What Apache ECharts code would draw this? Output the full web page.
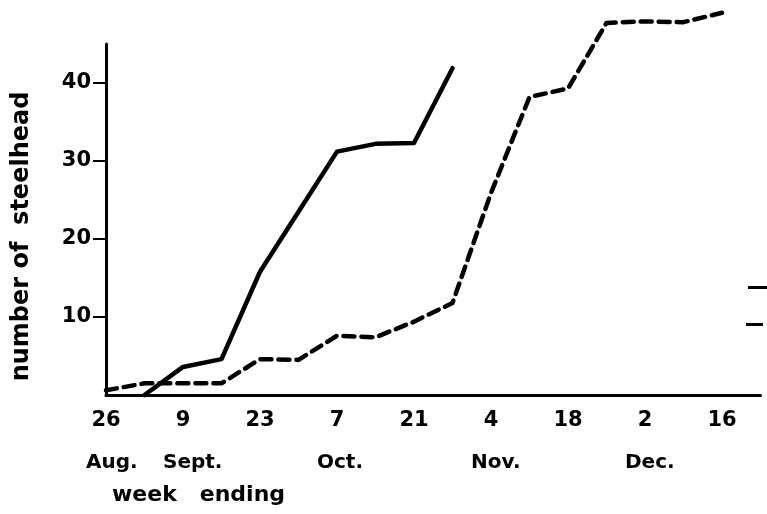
<!DOCTYPE html>
<html>
<head>
<meta charset="utf-8">
<script src="https://cdn.jsdelivr.net/npm/echarts@6/dist/echarts.min.js"></script>
<style>html,body{margin:0;padding:0;background:#fff}#c{width:767px;height:514px}</style>
</head>
<body>
<div id="c"></div>
<script>
// weekly categories (week ending), Aug 26 .. Dec 16, plus one trailing blank slot
var weekDays = ['26','2','9','16','23','30','7','14','21','28','4','11','18','25','2','9','16',''];
var monthLabels = ['Aug.','','Sept.','','','','Oct.','','','','Nov.','','','','Dec.','','',''];
// solid line (cumulative count, first series)
var solidValues = [null, 0, 3.6, 4.6, 15.8, 23.5, 31.2, 32.2, 32.3, 41.9, null, null, null, null, null, null, null, null];
// dashed line (cumulative count, second series)
var dashedValues = [0.6, 1.5, 1.5, 1.5, 4.6, 4.5, 7.6, 7.4, 9.4, 11.8, 25.9, 38.2, 39.3, 47.7, 47.9, 47.8, 49.0, null];
var yTicks = [10, 20, 30, 40];

var FONT = '"DejaVu Sans", "Liberation Sans", sans-serif';
var chart = echarts.init(document.getElementById('c'));
chart.setOption({
  animation: false,
  backgroundColor: '#ffffff',
  grid: { left: 106, right: 6.5, top: 44, bottom: 119, containLabel: false },
  xAxis: [{
    type: 'category',
    data: weekDays,
    boundaryGap: false,
    axisLine: { lineStyle: { color: '#000', width: 3 } },
    axisTick: { show: false },
    axisLabel: { interval: 1, margin: 15, color: '#000', fontFamily: FONT, fontWeight: 'bold', fontSize: 21 },
    splitLine: { show: false }
  }, {
    type: 'category',
    data: monthLabels,
    boundaryGap: false,
    position: 'bottom',
    offset: 42,
    axisLine: { show: false },
    axisTick: { show: false },
    axisLabel: {
      interval: function (i, v) { return v !== ''; },
      margin: 16,
      width: 40,
      align: 'center',
      formatter: function (v) { return '{m|' + v + '}'; },
      rich: { m: { align: 'left', color: '#000', fontFamily: FONT, fontWeight: 'bold', fontSize: 20 } }
    },
    splitLine: { show: false }
  }],
  yAxis: {
    type: 'value',
    min: 0, max: 45, interval: 10,
    name: 'number of  steelhead',
    nameLocation: 'middle',
    nameRotate: 90,
    nameGap: 72,
    nameMoveOverlap: false,
    nameTextStyle: { color: '#000', fontFamily: FONT, fontWeight: 'bold', fontSize: 24, padding: [0, 34, 0, 0] },
    axisLine: { show: true, lineStyle: { color: '#000', width: 3 } },
    axisTick: { show: true, inside: false, length: 13, lineStyle: { color: '#000', width: 2 },
      customValues: yTicks },
    axisLabel: { margin: 15, color: '#000', fontFamily: FONT, fontWeight: 'bold', fontSize: 21,
      customValues: yTicks },
    splitLine: { show: false }
  },
  graphic: [
    { type: 'text', left: 112, top: 484,
      style: { text: 'week   ending', fill: '#000', font: 'bold 22px ' + FONT } },
    { type: 'rect', shape: { x: 748, y: 286, width: 19, height: 3 }, style: { fill: '#000' } },
    { type: 'rect', shape: { x: 746, y: 323, width: 17, height: 3 }, style: { fill: '#000' } }
  ],
  series: [{
    type: 'line',
    data: solidValues,
    showSymbol: false,
    clip: false,
    lineStyle: { color: '#000', width: 4.5, cap: 'round', join: 'round' },
    z: 3
  }, {
    type: 'line',
    data: dashedValues,
    showSymbol: false,
    clip: false,
    lineStyle: { color: '#000', width: 4.5, type: [11, 7], cap: 'round', join: 'round' },
    z: 2
  }]
});
</script>
</body>
</html>
